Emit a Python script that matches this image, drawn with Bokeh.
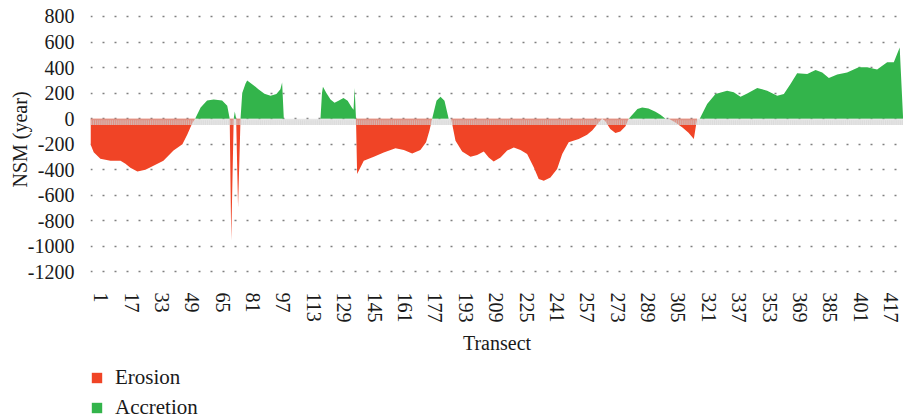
import numpy as np
from bokeh.plotting import figure
from bokeh.layouts import column
from bokeh.models import Range1d, FixedTicker, Legend, LegendItem, ColumnDataSource
from bokeh.embed import file_html
from bokeh.resources import INLINE

# NSM (year) along transects
transect = [-4.6, -2.9, 0.6, 5.9, 11.2, 13.8, 16.4, 20.1, 24.3, 27.0, 33.8, 39.1, 43.8, 46.5, 48.9, 50.5,
            53.4, 56.8, 60.3, 64.7, 67.4, 68.7,
            69.5, 70.8, 71.4, 72.1, 73.1, 74.4,
            75.3, 77.0, 77.9, 81.4, 83.8, 87.0, 90.2, 93.3, 95.4, 96.3, 97.2,
            116.5, 117.3, 117.8, 119.6, 121.8, 123.9, 126.0, 128.6, 130.8, 132.9, 133.9, 134.5, 135.2,
            135.8, 139.3, 144.6, 149.8, 156.0, 160.4, 164.8, 169.1, 172.1, 173.9, 175.3,
            177.6, 179.7, 181.8, 184.0,
            185.3, 187.6, 191.1, 195.5, 199.0, 202.5, 205.1, 207.7, 211.3, 214.8, 218.3, 221.8, 225.3,
            228.8, 231.4, 234.1, 237.6, 241.1, 243.8, 247.2, 252.5, 256.9, 259.7, 263.0, 264.8,
            266.5, 269.1, 271.8, 274.4, 277.1, 278.8,
            281.3, 283.4, 285.9, 289.2, 292.9, 295.5, 298.2,
            299.9, 303.4, 307.1, 310.3, 313.1, 314.8,
            316.2, 320.1, 324.5, 330.6, 334.1, 337.7, 341.2, 346.5, 351.7, 357.0, 360.5, 364.0, 367.5,
            372.8, 377.2, 380.7, 384.2, 388.6, 393.8, 399.9, 404.4, 409.6, 414.9, 418.4, 421.5, 423.3]
nsm = [-200, -262, -313, -329, -329, -352, -384, -414, -400, -381, -329, -250, -200, -120, -38, 0,
       88, 142, 150, 142, 102, 0,
       -955, 0, 57, 0, -694, 0,
       200, 273, 298, 260, 230, 195, 180, 193, 230, 284, 0,
       0, 200, 250, 200, 150, 125, 140, 162, 140, 90, 70, 240, 0,
       -433, -329, -298, -264, -232, -245, -272, -245, -185, -92, 0,
       141, 172, 141, 0,
       0, -172, -256, -298, -285, -256, -303, -335, -303, -250, -225, -245, -276,
       -381, -472, -485, -460, -394, -276, -185, -159, -125, -90, -29, 0,
       -20, -80, -112, -100, -60, 0,
       40, 75, 88, 80, 55, 30, 0,
       0, -30, -70, -110, -159, 0,
       0, 115, 193, 219, 206, 172, 198, 240, 219, 180, 193, 272, 355,
       350, 381, 362, 319, 345, 362, 402, 402, 384, 441, 441, 558, 0]

x_ticks = [1, 17, 33, 49, 65, 81, 97, 113, 129, 145, 161, 177, 193, 209, 225, 241, 257,
           273, 289, 305, 321, 337, 353, 369, 385, 401, 417]
y_ticks = [-1200, -1000, -800, -600, -400, -200, 0, 200, 400, 600, 800]
series_labels = ["Erosion", "Accretion"]

RED = "#F04426"
GREEN = "#33B44B"
FONT = "Liberation Serif"
TXT = "#1a1a1a"

t = np.array(transect, dtype=float)
v = np.array(nsm, dtype=float)
x_end = t.max() + 0.2
src = ColumnDataSource(dict(x=t, zero=np.zeros_like(v), pos=np.maximum(v, 0), neg=np.minimum(v, 0)))

p = figure(width=903, height=358, x_range=Range1d(t.min(), x_end), y_range=Range1d(-1251, 925),
           output_backend="svg", toolbar_location=None,
           min_border_left=90, min_border_right=0, min_border_top=0, min_border_bottom=80)
p.outline_line_color = None
p.background_fill_color = "white"

r_neg = p.varea(x="x", y1="neg", y2="zero", source=src, fill_color=RED)
r_pos = p.varea(x="x", y1="zero", y2="pos", source=src, fill_color=GREEN)

# baseline band with per-transect stripes
p.quad(left=[t.min()], right=[x_end], top=[0], bottom=[-49], fill_color="#d2d2d2", fill_alpha=0.55, line_color=None)
xs = np.arange(np.ceil(t.min()), np.floor(t.max()) + 1)
p.vbar(x=xs, width=0.5, top=-12, bottom=-49, fill_color="#d2d2d2", fill_alpha=0.55, line_color=None)

p.xgrid.visible = False
p.ygrid.grid_line_color = "#808080"
p.ygrid.grid_line_width = 1.6
p.ygrid.grid_line_dash = "2 10"

xa = p.xaxis[0]
xa.ticker = FixedTicker(ticks=x_ticks)
xa.major_label_orientation = "vertical"
xa.axis_line_color = None
xa.major_tick_line_color = None
xa.minor_tick_line_color = None
xa.major_label_standoff = 8
xa.major_label_text_font = FONT
xa.major_label_text_font_size = "20px"
xa.major_label_text_color = TXT
xa.axis_label = "Transect"
xa.axis_label_text_font = FONT
xa.axis_label_text_font_size = "20px"
xa.axis_label_text_font_style = "normal"
xa.axis_label_text_color = TXT
xa.axis_label_standoff = 6

ya = p.yaxis[0]
ya.ticker = FixedTicker(ticks=y_ticks)
ya.major_label_overrides = {k: str(k) for k in y_ticks}
ya.axis_line_color = None
ya.major_tick_line_color = None
ya.minor_tick_line_color = None
ya.major_label_standoff = 10
ya.major_label_text_font = FONT
ya.major_label_text_font_size = "20px"
ya.major_label_text_color = TXT
ya.axis_label = "NSM (year)"
ya.axis_label_text_font = FONT
ya.axis_label_text_font_size = "20px"
ya.axis_label_text_font_style = "normal"
ya.axis_label_text_color = TXT
ya.axis_label_standoff = -6

# legend strip below the chart (swatch renderers sit outside the strip's visible range)
p2 = figure(width=903, height=61, x_range=Range1d(0, 1), y_range=Range1d(0, 1),
            output_backend="svg", toolbar_location=None, x_axis_location=None, y_axis_location=None,
            min_border_left=90, min_border_right=0, min_border_top=0, min_border_bottom=0)
p2.outline_line_color = None
p2.grid.visible = False
l_neg = p2.varea(x=[5, 6], y1=[0, 0], y2=[0, 0], fill_color=RED)
l_pos = p2.varea(x=[5, 6], y1=[0, 0], y2=[0, 0], fill_color=GREEN)

legend = Legend(items=[LegendItem(label=series_labels[0], renderers=[l_neg]),
                       LegendItem(label=series_labels[1], renderers=[l_pos])],
                location=(0, -1), orientation="vertical")
legend.margin = 0
legend.padding = 0
legend.spacing = 5
legend.border_line_color = None
legend.background_fill_alpha = 0
legend.glyph_width = 13
legend.glyph_height = 13
legend.label_standoff = 12
legend.label_text_font = FONT
legend.label_text_font_size = "21px"
legend.label_text_color = TXT
p2.add_layout(legend, "center")

open("out.html", "w").write(file_html(column(p, p2), INLINE))
